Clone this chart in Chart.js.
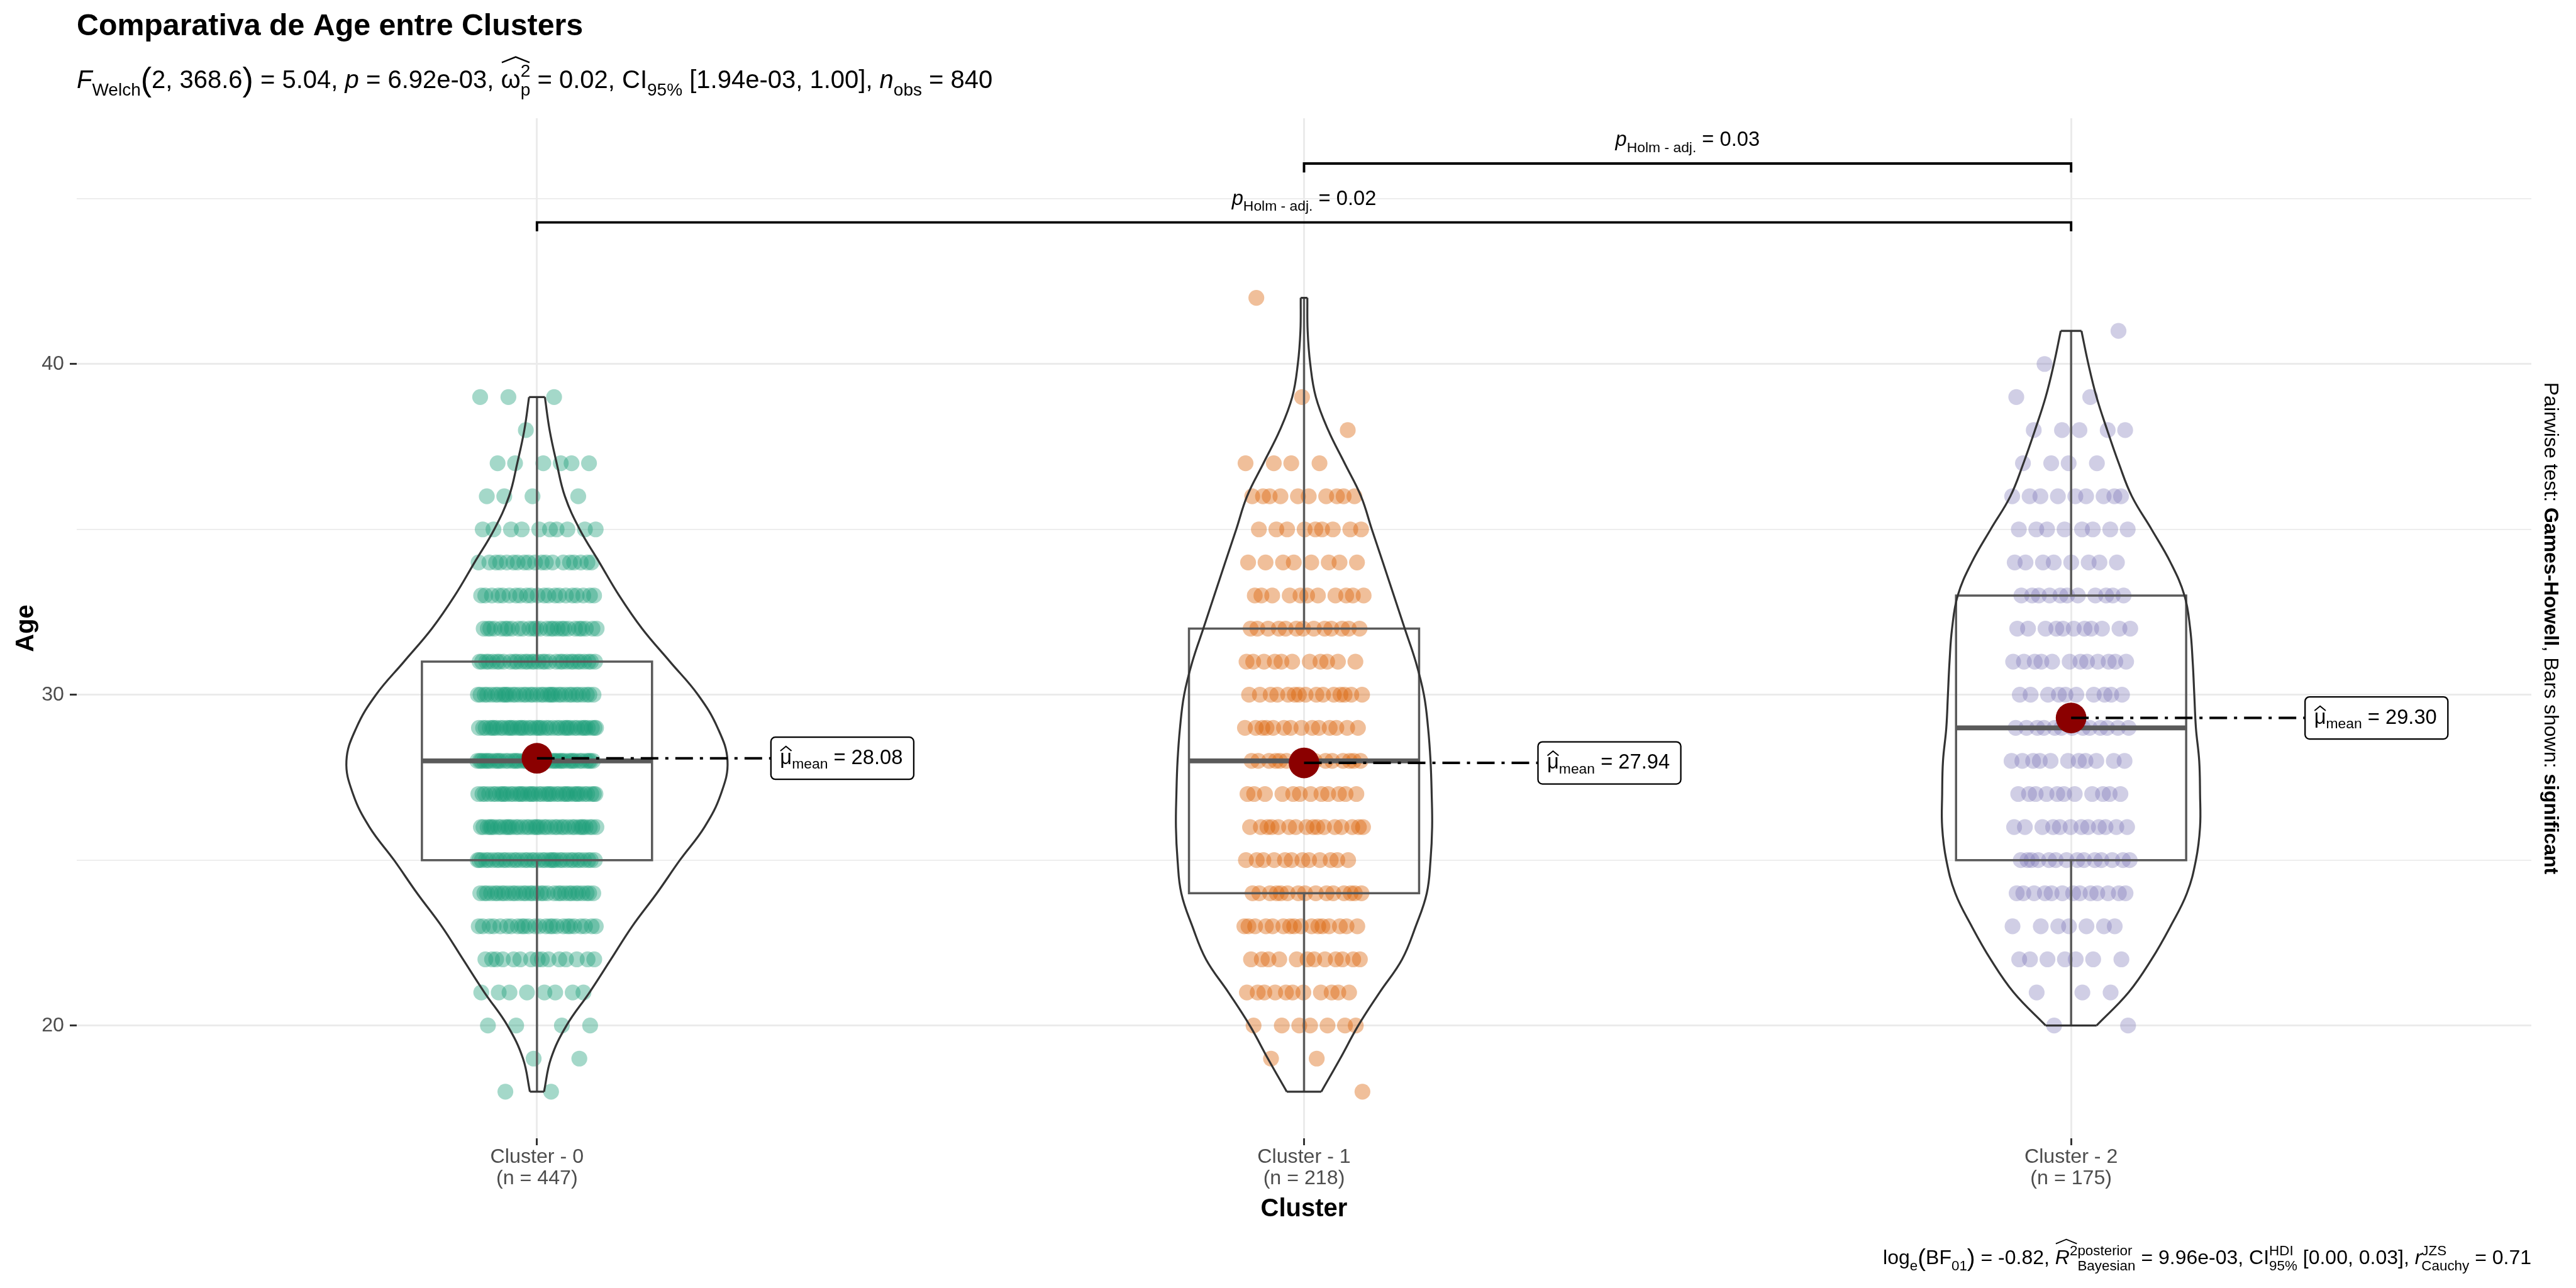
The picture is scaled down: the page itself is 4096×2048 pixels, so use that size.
<!DOCTYPE html>
<html><head><meta charset="utf-8">
<script src="https://cdn.jsdelivr.net/npm/chart.js@4.4.1/dist/chart.umd.min.js"></script>
<style>html,body{margin:0;padding:0;background:#fff;}canvas{display:block;}</style>
</head><body>
<canvas id="c" width="4096" height="2048" style="width:4096px;height:2048px"></canvas>
<script>
// ---------------- DATA ----------------
const categories = ['Cluster - 0', 'Cluster - 1', 'Cluster - 2'];
const nObs = [447, 218, 175];
const ageMin = [18, 18, 20];
// number of observations at each integer age, starting at ageMin
const counts0 = [2,2,4,8,15,25,32,36,38,41,44,41,36,32,27,21,19,10,4,6,1,3];          // 18..39
const counts1 = [1,2,7,11,12,16,15,12,16,12,16,14,15,11,13,11,8,9,10,4,1,1,0,0,1];    // 18..42
const counts2 = [2,3,7,7,13,14,12,11,11,13,10,12,11,11,8,8,9,4,5,2,1,1];              // 20..41
// violin half-width (density, in category units) at each integer age
const violin0 = [.0092,.0182,.0385,.0685,.0964,.1242,.1563,.1863,.2184,.2398,.2484,.2355,.2099,.1734,.1370,.1071,.0814,.0557,.0364,.0257,.0165,.0103];
const violin1 = [.0225,.0471,.0707,.0985,.1278,.1456,.1600,.1649,.1670,.1664,.1649,.1617,.1563,.1456,.1313,.1171,.1028,.0884,.0743,.0529,.0315,.0154,.0081,.0047,.0043];
const violin2 = [.0332,.0749,.1049,.1296,.1510,.1627,.1681,.1681,.1670,.1627,.1606,.1585,.1552,.1478,.1296,.1049,.0792,.0621,.0471,.0332,.0225,.0135];
const whiskerMin = [18, 18, 20];
const boxQ1 = [25, 24, 25];
const boxMedian = [28, 28, 29];
const boxQ3 = [31, 32, 33];
const whiskerMax = [39, 42, 41];
const means = [28.08, 27.94, 29.30];
const pairs = [[2, 3], [1, 3]];
const pHolm = ['0.03', '0.02'];
const barLevel = [46.06, 44.28];
const yTicks = [20, 25, 30, 35, 40, 45];
const yLabelTicks = [20, 30, 40];

const titleText = 'Comparativa de Age entre Clusters';

// ---------------- STYLE ----------------
const FAM = '"Liberation Sans", Arial, Helvetica, sans-serif';
const pointColors = ['rgba(27,158,119,0.40)', 'rgba(217,95,2,0.40)', 'rgba(117,112,179,0.34)'];
const JIT = 0.078, BOXW = 0.15, LABOFF = 0.305, TIP = 0.27;

const countsList = [counts0, counts1, counts2];
const violinList = [violin0, violin1, violin2];

const datasets = [];
countsList.forEach((cnts, ci) => {
  const pts = []; let n = 0;
  cnts.forEach((k, j) => {
    const age = ageMin[ci] + j;
    for (let m = 0; m < k; m++) {
      const u = ((n + 1) * 0.6180339887 + ci * 0.37) % 1;
      pts.push({x: ci + 1 + (2 * u - 1) * JIT, y: age});
      n++;
    }
  });
  datasets.push({type: 'scatter', data: pts, backgroundColor: pointColors[ci], borderWidth: 0, pointRadius: 12.6, pointHoverRadius: 12.6, order: 10});
});
const lineDs = (data, color, width, order, extra) => Object.assign({type: 'scatter', showLine: true, data, borderColor: color, borderWidth: width, pointRadius: 0, pointHoverRadius: 0, fill: false, tension: 0, order}, extra || {});
violinList.forEach((v, ci) => {
  const c = ci + 1, last = v.length - 1, top = ageMin[ci] + last;
  datasets.push(lineDs(v.map((w, j) => ({x: c + w, y: ageMin[ci] + j})), '#333333', 3.2, 7, {tension: 0.4}));
  datasets.push(lineDs(v.map((w, j) => ({x: c - w, y: ageMin[ci] + j})), '#333333', 3.2, 7, {tension: 0.4}));
  datasets.push(lineDs([{x: c - v[last], y: top}, {x: c + v[last], y: top}], '#333333', 3.2, 7));
  datasets.push(lineDs([{x: c - v[0], y: ageMin[ci]}, {x: c + v[0], y: ageMin[ci]}], '#333333', 3.2, 7));
});
categories.forEach((cat, ci) => {
  const c = ci + 1;
  datasets.push(lineDs([{x: c - BOXW, y: boxQ1[ci]}, {x: c + BOXW, y: boxQ1[ci]}, {x: c + BOXW, y: boxQ3[ci]}, {x: c - BOXW, y: boxQ3[ci]}, {x: c - BOXW, y: boxQ1[ci]}, {x: c + BOXW, y: boxQ1[ci]}], '#5a5a5a', 3.5, 8));
  datasets.push(lineDs([{x: c - BOXW, y: boxMedian[ci]}, {x: c + BOXW, y: boxMedian[ci]}], '#5a5a5a', 7.8, 8));
  datasets.push(lineDs([{x: c, y: whiskerMin[ci]}, {x: c, y: boxQ1[ci]}], '#5a5a5a', 3.5, 8));
  datasets.push(lineDs([{x: c, y: boxQ3[ci]}, {x: c, y: whiskerMax[ci]}], '#5a5a5a', 3.5, 8));
  datasets.push({type: 'scatter', data: [{x: c, y: means[ci]}], backgroundColor: '#8b0000', borderWidth: 0, pointRadius: 24.4, pointHoverRadius: 24.4, order: 3});
  datasets.push(lineDs([{x: c, y: means[ci]}, {x: c + LABOFF, y: means[ci]}], '#000000', 4, 2, {borderDash: [28, 11, 5, 11]}));
});
pairs.forEach((p, k) => {
  datasets.push(lineDs([{x: p[0], y: barLevel[k] - TIP}, {x: p[0], y: barLevel[k]}, {x: p[1], y: barLevel[k]}, {x: p[1], y: barLevel[k] - TIP}], '#000000', 3.9, 4));
});

// ---------------- rich text helpers ----------------
function fnt(sz, b, i) { return (i ? 'italic ' : '') + (b ? 'bold ' : '') + sz.toFixed(2) + 'px ' + FAM; }
function tw(ctx, tk, S) {
  if (tk.stack) return Math.max(...tk.stack.map(t => tw(ctx, t, S)));
  if (tk.group) return tk.group.reduce((a, t) => a + tw(ctx, t, S), 0);
  ctx.font = fnt(S * (tk.s || 1), tk.b, tk.i); return ctx.measureText(tk.t).width;
}
function tasc(ctx, tk, S) {
  if (tk.stack) return Math.max(...tk.stack.map(t => tasc(ctx, t, S)));
  if (tk.group) return Math.max(...tk.group.map(t => tasc(ctx, t, S)));
  ctx.font = fnt(S * (tk.s || 1), tk.b, tk.i);
  return ctx.measureText(tk.t).actualBoundingBoxAscent - (tk.dy || 0) * S;
}
function dt(ctx, tk, x, y, S) {
  if (tk.stack) { tk.stack.forEach(t => dt(ctx, t, x, y, S)); return; }
  if (tk.group) {
    let cx = x;
    tk.group.forEach(t => { dt(ctx, t, cx, y, S); cx += tw(ctx, t, S); });
    if (tk.hat) {
      const w = cx - x, base = y - tasc(ctx, tk, S) - S * 0.09;
      ctx.beginPath(); ctx.moveTo(x + w * 0.03, base); ctx.lineTo(x + w / 2, base - S * 0.22); ctx.lineTo(x + w * 0.97, base);
      ctx.lineWidth = S * 0.06; ctx.strokeStyle = ctx.fillStyle; ctx.stroke();
    }
    return;
  }
  ctx.font = fnt(S * (tk.s || 1), tk.b, tk.i); ctx.fillText(tk.t, x, y + (tk.dy || 0) * S);
}
function richW(ctx, toks, S) { return toks.reduce((a, t) => a + tw(ctx, t, S), 0); }
function drawRich(ctx, toks, x, y, S, align) {
  const w = richW(ctx, toks, S);
  let cx = align === 'right' ? x - w : align === 'center' ? x - w / 2 : x;
  ctx.textAlign = 'left'; ctx.textBaseline = 'alphabetic';
  toks.forEach(t => { dt(ctx, t, cx, y, S); cx += tw(ctx, t, S); });
  return w;
}
const SUB = (t) => ({t, s: .7, dy: .3});
const SUP = (t) => ({t, s: .7, dy: -.45});
const subtitleTokens = [
  {t: 'F', i: 1}, SUB('Welch'), {t: '(', s: 1.3, dy: .1}, {t: '2, 368.6'}, {t: ')', s: 1.3, dy: .1},
  {t: ' = 5.04, '}, {t: 'p', i: 1}, {t: ' = 6.92e-03, '},
  {group: [{t: 'ω'}, {stack: [SUP('2'), SUB('p')]}], hat: 1},
  {t: ' = 0.02, CI'}, SUB('95%'), {t: ' [1.94e-03, 1.00], '}, {t: 'n', i: 1}, SUB('obs'), {t: ' = 840'}
];
const captionTokens = [
  {t: 'log'}, SUB('e'), {t: '(', s: 1.2, dy: .08}, {t: 'BF'}, SUB('01'), {t: ')', s: 1.2, dy: .08}, {t: ' = -0.82, '},
  {group: [{t: 'R', i: 1}, SUP('2')], hat: 1}, {stack: [SUP('posterior'), SUB('Bayesian')]},
  {t: ' = 9.96e-03, CI'}, {stack: [SUP('HDI'), SUB('95%')]}, {t: ' [0.00, 0.03], '},
  {t: 'r', i: 1}, {stack: [SUP('JZS'), SUB('Cauchy')]}, {t: ' = 0.71'}
];
const rightTokens = [{t: 'Pairwise test: '}, {t: 'Games-Howell', b: 1}, {t: ', Bars shown: '}, {t: 'significant', b: 1}];

const textPlugin = {
  id: 'texts',
  beforeDraw(chart) { const c = chart.ctx; c.save(); c.fillStyle = '#fff'; c.fillRect(0, 0, chart.width, chart.height); c.restore(); },
  afterDraw(chart) {
    const ctx = chart.ctx, xs = chart.scales.x, ys = chart.scales.y, a = chart.chartArea;
    ctx.save();
    ctx.fillStyle = '#000'; ctx.textAlign = 'left'; ctx.textBaseline = 'alphabetic';
    ctx.font = fnt(48.3, true); ctx.fillText(titleText, a.left, 56);
    drawRich(ctx, subtitleTokens, a.left, 140, 40, 'left');
    // p-value labels
    pairs.forEach((p, k) => {
      const toks = [{t: 'p', i: 1}, {t: 'Holm - adj.', s: .7, dy: .3}, {t: ' = ' + pHolm[k]}];
      drawRich(ctx, toks, xs.getPixelForValue((p[0] + p[1]) / 2), ys.getPixelForValue(barLevel[k]) - 28, 32.7, 'center');
    });
    // mean labels
    means.forEach((m, ci) => {
      const toks = [{group: [{t: 'μ'}], hat: 1}, {t: 'mean', s: .7, dy: .22}, {t: ' = ' + m.toFixed(2)}];
      const S = 32.7, w = richW(ctx, toks, S) + 14.5 + 17.5, h = 67;
      const x0 = xs.getPixelForValue(ci + 1 + LABOFF), yc = ys.getPixelForValue(m);
      ctx.beginPath(); ctx.roundRect(x0, yc - h / 2, w, h, 7);
      ctx.fillStyle = '#fff'; ctx.fill(); ctx.lineWidth = 2.3; ctx.strokeStyle = '#000'; ctx.stroke();
      ctx.fillStyle = '#000';
      drawRich(ctx, toks, x0 + 14.5, yc + 9.3, S, 'left');
    });
    // axis titles
    ctx.fillStyle = '#000';
    ctx.font = fnt(40, true); ctx.textAlign = 'center';
    ctx.fillText('Cluster', (a.left + a.right) / 2, 1934);
    ctx.save(); ctx.translate(39, (a.top + a.bottom) / 2); ctx.rotate(-Math.PI / 2);
    ctx.font = fnt(40, true); ctx.textAlign = 'center'; ctx.fillText('Age', 0, 14); ctx.restore();
    // right rotated caption
    ctx.save(); ctx.translate(4057, (a.top + a.bottom) / 2); ctx.rotate(Math.PI / 2);
    drawRich(ctx, rightTokens, 0, 11.5, 32, 'center'); ctx.restore();
    // bottom caption
    drawRich(ctx, captionTokens, a.right, 2010, 32, 'right');
    ctx.restore();
  }
};

new Chart(document.getElementById('c'), {
  type: 'scatter',
  data: {datasets},
  options: {
    responsive: false, animation: false, devicePixelRatio: 1,
    layout: {padding: {top: 188, right: 71, left: 0, bottom: 0}},
    plugins: {legend: {display: false}, tooltip: {enabled: false}, title: {display: false}},
    scales: {
      x: {
        type: 'linear', min: 0.4, max: 3.6,
        afterBuildTicks: s => { s.ticks = [1, 2, 3].map(v => ({value: v})); },
        afterFit: s => { s.height = 238; },
        ticks: {callback: v => [categories[v - 1], '(n = ' + nObs[v - 1] + ')'], color: '#4d4d4d', font: {size: 32.2, family: FAM, lineHeight: 1.06}, padding: 2, maxRotation: 0, minRotation: 0, autoSkip: false},
        grid: {color: '#ebebeb', lineWidth: 3, tickColor: '#333333', tickLength: 11, tickWidth: 3},
        border: {display: false}
      },
      y: {
        type: 'linear', min: 16.59, max: 47.43,
        afterBuildTicks: s => { s.ticks = yTicks.map(v => ({value: v})); },
        afterFit: s => { s.width = 122; },
        ticks: {callback: v => yLabelTicks.includes(v) ? String(v) : '', color: '#4d4d4d', font: {size: 32.2, family: FAM}, padding: 9, autoSkip: false},
        grid: {
          color: '#ebebeb',
          lineWidth: c => (c.tick && yLabelTicks.includes(c.tick.value)) ? 3 : 1.7,
          tickColor: c => (c.tick && yLabelTicks.includes(c.tick.value)) ? '#333333' : 'rgba(0,0,0,0)',
          tickLength: 11, tickWidth: 3
        },
        border: {display: false}
      }
    }
  },
  plugins: [textPlugin]
});
</script>
</body></html>
